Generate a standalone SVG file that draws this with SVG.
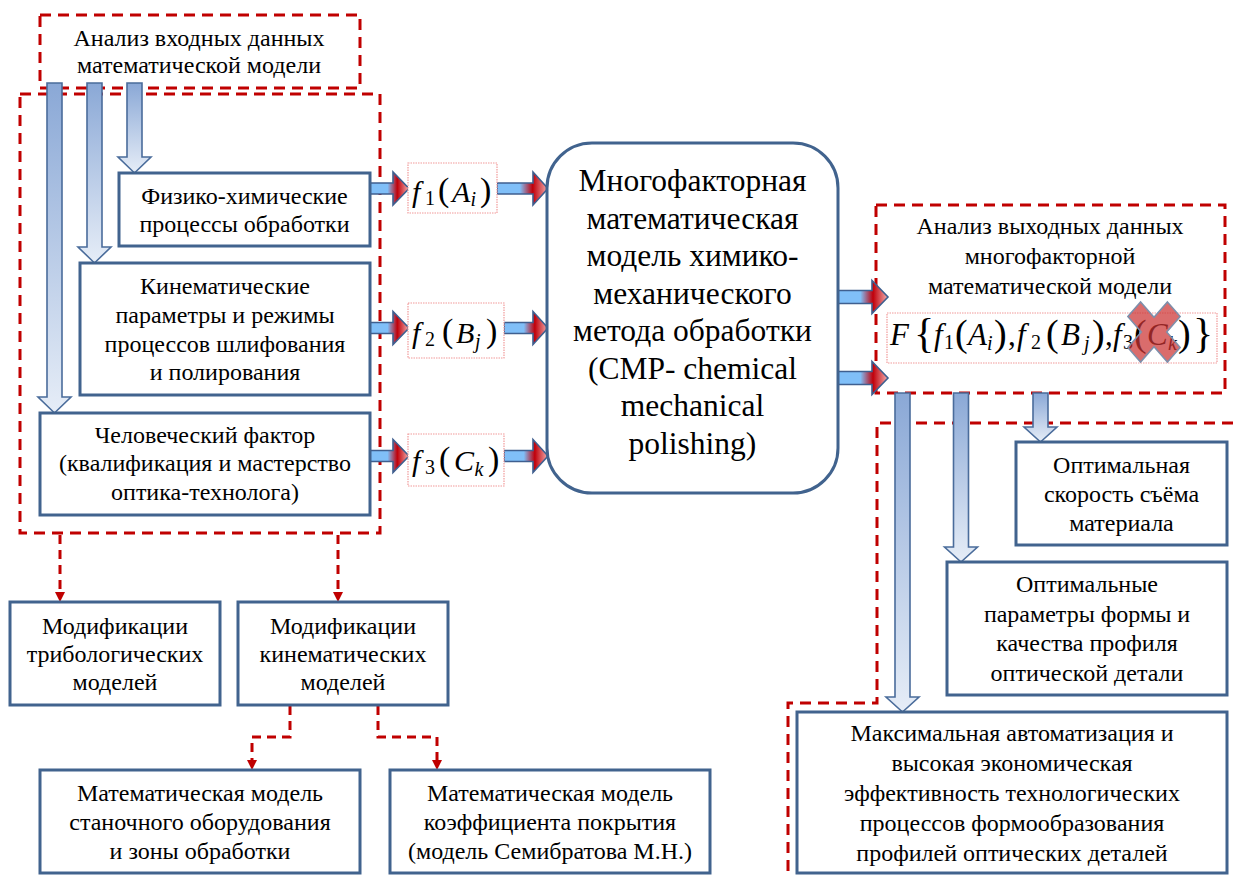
<svg xmlns="http://www.w3.org/2000/svg" width="1233" height="878" viewBox="0 0 1233 878">
<style>
.box{fill:#fff;stroke:#41638e;stroke-width:3}
.t{font-family:"Liberation Serif","Times New Roman",serif;font-size:24px;fill:#000;text-anchor:middle}
.big{font-size:31.5px}
.dash{fill:none;stroke:#c00000;stroke-width:3;stroke-dasharray:11 7}
.fbox{fill:#fff;stroke:#f19a9a;stroke-width:1.2;stroke-dasharray:1.5 1}
.va{fill:url(#vg);stroke:#4a6c9b;stroke-width:1.6}
.ha{fill:url(#hg);stroke:#3f5f8f;stroke-width:1.6}
.m{font-family:"Liberation Serif","Times New Roman",serif;fill:#000}
.i{font-style:italic}
.conn{fill:none;stroke:#c00000;stroke-width:3;stroke-dasharray:9 6}
</style>
<defs>
<linearGradient id="vg" x1="0" y1="0" x2="0" y2="1">
<stop offset="0" stop-color="#8aa8d6"/>
<stop offset="1" stop-color="#e6edf7"/>
</linearGradient>
<linearGradient id="hg" x1="0" y1="0" x2="1" y2="0">
<stop offset="0" stop-color="#80bff8"/>
<stop offset="0.45" stop-color="#80bff8"/>
<stop offset="0.7" stop-color="#c0000a"/>
<stop offset="1" stop-color="#f3b0b0"/>
</linearGradient>
<marker id="ah" viewBox="0 0 10 10" refX="0" refY="5" markerWidth="10" markerHeight="10" markerUnits="userSpaceOnUse" orient="auto">
<path d="M0,0 L10,5 L0,10 Z" fill="#c00000"/>
</marker>
</defs>
<rect width="1233" height="878" fill="#fff"/>

<g id="regions">
<rect class="dash" x="40" y="15" width="320" height="73"/>
<rect class="dash" x="20" y="94" width="360" height="439"/>
<rect class="dash" x="876" y="205" width="349" height="188"/>
<polyline class="dash" points="1233,423 877,423 877,703 788,703 788,878"/>
</g>

<g id="connectors">
<path class="va" d="M47,83 H62 V397 H71 L54.5,413 L38,397 H47 Z"/>
<path class="va" d="M87,83 H102 V247 H111 L94.5,263 L78,247 H87 Z"/>
<path class="va" d="M127,83 H142 V157 H151 L134.5,173 L118,157 H127 Z"/>
<path class="va" d="M895,393 H910 V697 H919 L902.5,712 L886,697 H895 Z"/>
<path class="va" d="M953.5,393 H968.5 V547 H977.5 L961,562 L944.5,547 H953.5 Z"/>
<path class="va" d="M1033,393 H1048 V427 H1057 L1040.5,442 L1024,427 H1033 Z"/>
<path class="ha" d="M370,183 H393 V172 L409,188.5 L393,205 V194 H370 Z"/>
<path class="ha" d="M370,322.5 H393 V311.5 L409,328 L393,344.5 V333.5 H370 Z"/>
<path class="ha" d="M370,450.5 H393 V439.5 L409,456 L393,472.5 V461.5 H370 Z"/>
<path class="ha" d="M497,183 H533 V172 L548,188.5 L533,205 V194 H497 Z"/>
<path class="ha" d="M504,322.5 H533 V311.5 L548,328 L533,344.5 V333.5 H504 Z"/>
<path class="ha" d="M504,450.5 H533 V439.5 L548,456 L533,472.5 V461.5 H504 Z"/>
<path class="ha" d="M838,290.5 H872 V280.5 L888,297 L872,313.5 V303.5 H838 Z"/>
<path class="ha" d="M838,371.5 H872 V361.5 L888,378 L872,394.5 V384.5 H838 Z"/>
<polyline class="conn" points="60,535 60,592" marker-end="url(#ah)"/>
<polyline class="conn" points="338,535 338,592" marker-end="url(#ah)"/>
<polyline class="conn" points="290,706 290,737 252,737 252,760" marker-end="url(#ah)"/>
<polyline class="conn" points="378,706 378,737 437,737 437,760" marker-end="url(#ah)"/>
</g>

<g id="input-analysis">
<text class="t" x="199" y="46">Анализ входных  данных</text>
<text class="t" x="199" y="73">математической модели</text>
</g>

<g id="phys-chem">
<rect class="box" x="119" y="173" width="251" height="73"/>
<text class="t" x="244.5" y="204">Физико-химические</text>
<text class="t" x="244.5" y="232">процессы обработки</text>
</g>

<g id="kinematic">
<rect class="box" x="80" y="263" width="290" height="132"/>
<text class="t" x="225" y="294">Кинематические</text>
<text class="t" x="225" y="323">параметры и режимы</text>
<text class="t" x="225" y="352">процессов шлифования</text>
<text class="t" x="225" y="380">и полирования</text>
</g>

<g id="human">
<rect class="box" x="40" y="413" width="330" height="102"/>
<text class="t" x="205" y="443">Человеческий фактор</text>
<text class="t" x="205" y="471">(квалификация и мастерство</text>
<text class="t" x="205" y="500">оптика-технолога)</text>
</g>

<g id="f1">
<rect class="fbox" x="408" y="163" width="89" height="50"/>
<text class="m" y="202"><tspan class="i" x="412" font-size="30">f</tspan><tspan x="425" y="205" font-size="20">1</tspan><tspan x="438" y="201" font-size="34">(</tspan><tspan class="i" x="452" y="202" font-size="30">A</tspan><tspan class="i" x="470.5" y="206" font-size="20">i</tspan><tspan x="480" y="201" font-size="34">)</tspan></text>
</g>

<g id="f2">
<rect class="fbox" x="408" y="303" width="96" height="55"/>
<text class="m" y="343"><tspan class="i" x="412" font-size="30">f</tspan><tspan x="425" y="346" font-size="20">2</tspan><tspan x="442" y="342" font-size="34">(</tspan><tspan class="i" x="456" y="343" font-size="30">B</tspan><tspan class="i" x="475" y="348" font-size="20">j</tspan><tspan x="486" y="342" font-size="34">)</tspan></text>
</g>

<g id="f3">
<rect class="fbox" x="408" y="434" width="96" height="52"/>
<text class="m" y="471"><tspan class="i" x="412" font-size="30">f</tspan><tspan x="425" y="474" font-size="20">3</tspan><tspan x="439" y="470" font-size="34">(</tspan><tspan class="i" x="454" y="471" font-size="30">C</tspan><tspan class="i" x="474.5" y="476" font-size="20">k</tspan><tspan x="488" y="470" font-size="34">)</tspan></text>
</g>

<g id="model">
<rect class="box" x="547" y="143" width="291" height="350" rx="45" ry="45"/>
<text class="t big" x="692.5" y="191">Многофакторная</text>
<text class="t big" x="692.5" y="228.5">математическая</text>
<text class="t big" x="692.5" y="266">модель химико-</text>
<text class="t big" x="692.5" y="303.5">механического</text>
<text class="t big" x="692.5" y="341">метода обработки</text>
<text class="t big" x="692.5" y="378.5">(CMP- chemical</text>
<text class="t big" x="692.5" y="416">mechanical</text>
<text class="t big" x="692.5" y="453.5">polishing)</text>
</g>

<g id="output-analysis">
<text class="t" x="1050" y="234">Анализ выходных  данных</text>
<text class="t" x="1050" y="264">многофакторной</text>
<text class="t" x="1050" y="294">математической модели</text>
</g>

<g id="formula">
<rect class="fbox" x="887" y="313" width="330" height="50"/>
<text class="m" y="345"><tspan class="i" x="890" font-size="31">F</tspan><tspan x="914" y="347" font-size="42">{</tspan><tspan class="i" x="934" y="345" font-size="31">f</tspan><tspan x="944" y="349" font-size="20">1</tspan><tspan x="955" y="346" font-size="38">(</tspan><tspan class="i" x="968" y="345" font-size="31">A</tspan><tspan class="i" x="987" y="350" font-size="20">i</tspan><tspan x="994" y="346" font-size="38">)</tspan><tspan x="1008" y="345" font-size="31">,</tspan><tspan class="i" x="1017" y="345" font-size="31">f</tspan><tspan x="1031" y="349" font-size="20">2</tspan><tspan x="1046" y="346" font-size="38">(</tspan><tspan class="i" x="1061" y="345" font-size="31">B</tspan><tspan class="i" x="1084" y="350" font-size="20">j</tspan><tspan x="1092" y="346" font-size="38">)</tspan><tspan x="1105" y="345" font-size="31">,</tspan><tspan class="i" x="1113" y="345" font-size="31">f</tspan><tspan x="1123" y="349" font-size="20">3</tspan><tspan x="1134" y="346" font-size="38">(</tspan><tspan class="i" x="1147" y="345" font-size="31">C</tspan><tspan class="i" x="1168" y="350" font-size="20">k</tspan><tspan x="1178" y="346" font-size="38">)</tspan><tspan x="1193" y="347" font-size="42">}</tspan></text>
<path transform="translate(1154,332) scale(1,1.15) rotate(45)" d="M-9,-28 H9 V-9 H28 V9 H9 V28 H-9 V9 H-28 V-9 H-9 Z" fill="#cc3333" fill-opacity="0.72" stroke="#7d8fab" stroke-width="1.5" vector-effect="non-scaling-stroke"/>
</g>

<g id="removal-rate">
<rect class="box" x="1016" y="442" width="211" height="103"/>
<text class="t" x="1121.5" y="473">Оптимальная</text>
<text class="t" x="1121.5" y="502">скорость съёма</text>
<text class="t" x="1121.5" y="531">материала</text>
</g>

<g id="shape-params">
<rect class="box" x="947" y="562" width="280" height="133"/>
<text class="t" x="1087" y="592">Оптимальные</text>
<text class="t" x="1087" y="622">параметры формы и</text>
<text class="t" x="1087" y="651">качества профиля</text>
<text class="t" x="1087" y="681">оптической детали</text>
</g>

<g id="automation">
<rect class="box" x="797" y="712" width="430" height="161"/>
<text class="t" x="1012" y="741">Максимальная автоматизация и</text>
<text class="t" x="1012" y="771">высокая экономическая</text>
<text class="t" x="1012" y="801">эффективность технологических</text>
<text class="t" x="1012" y="831">процессов формообразования</text>
<text class="t" x="1012" y="861">профилей оптических деталей</text>
</g>

<g id="tribo">
<rect class="box" x="10" y="602" width="210" height="103"/>
<text class="t" x="115" y="634">Модификации</text>
<text class="t" x="115" y="662">трибологических</text>
<text class="t" x="115" y="690">моделей</text>
</g>

<g id="kinematic-mod">
<rect class="box" x="238" y="602" width="210" height="103"/>
<text class="t" x="343" y="634">Модификации</text>
<text class="t" x="343" y="662">кинематических</text>
<text class="t" x="343" y="690">моделей</text>
</g>

<g id="machine-model">
<rect class="box" x="40" y="770" width="320" height="103"/>
<text class="t" x="200" y="801">Математическая модель</text>
<text class="t" x="200" y="830">станочного оборудования</text>
<text class="t" x="200" y="859">и зоны обработки</text>
</g>

<g id="coverage-model">
<rect class="box" x="390" y="770" width="320" height="103"/>
<text class="t" x="550" y="801">Математическая модель</text>
<text class="t" x="550" y="830">коэффициента покрытия</text>
<text class="t" x="550" y="859">(модель Семибратова М.Н.)</text>
</g>
</svg>
